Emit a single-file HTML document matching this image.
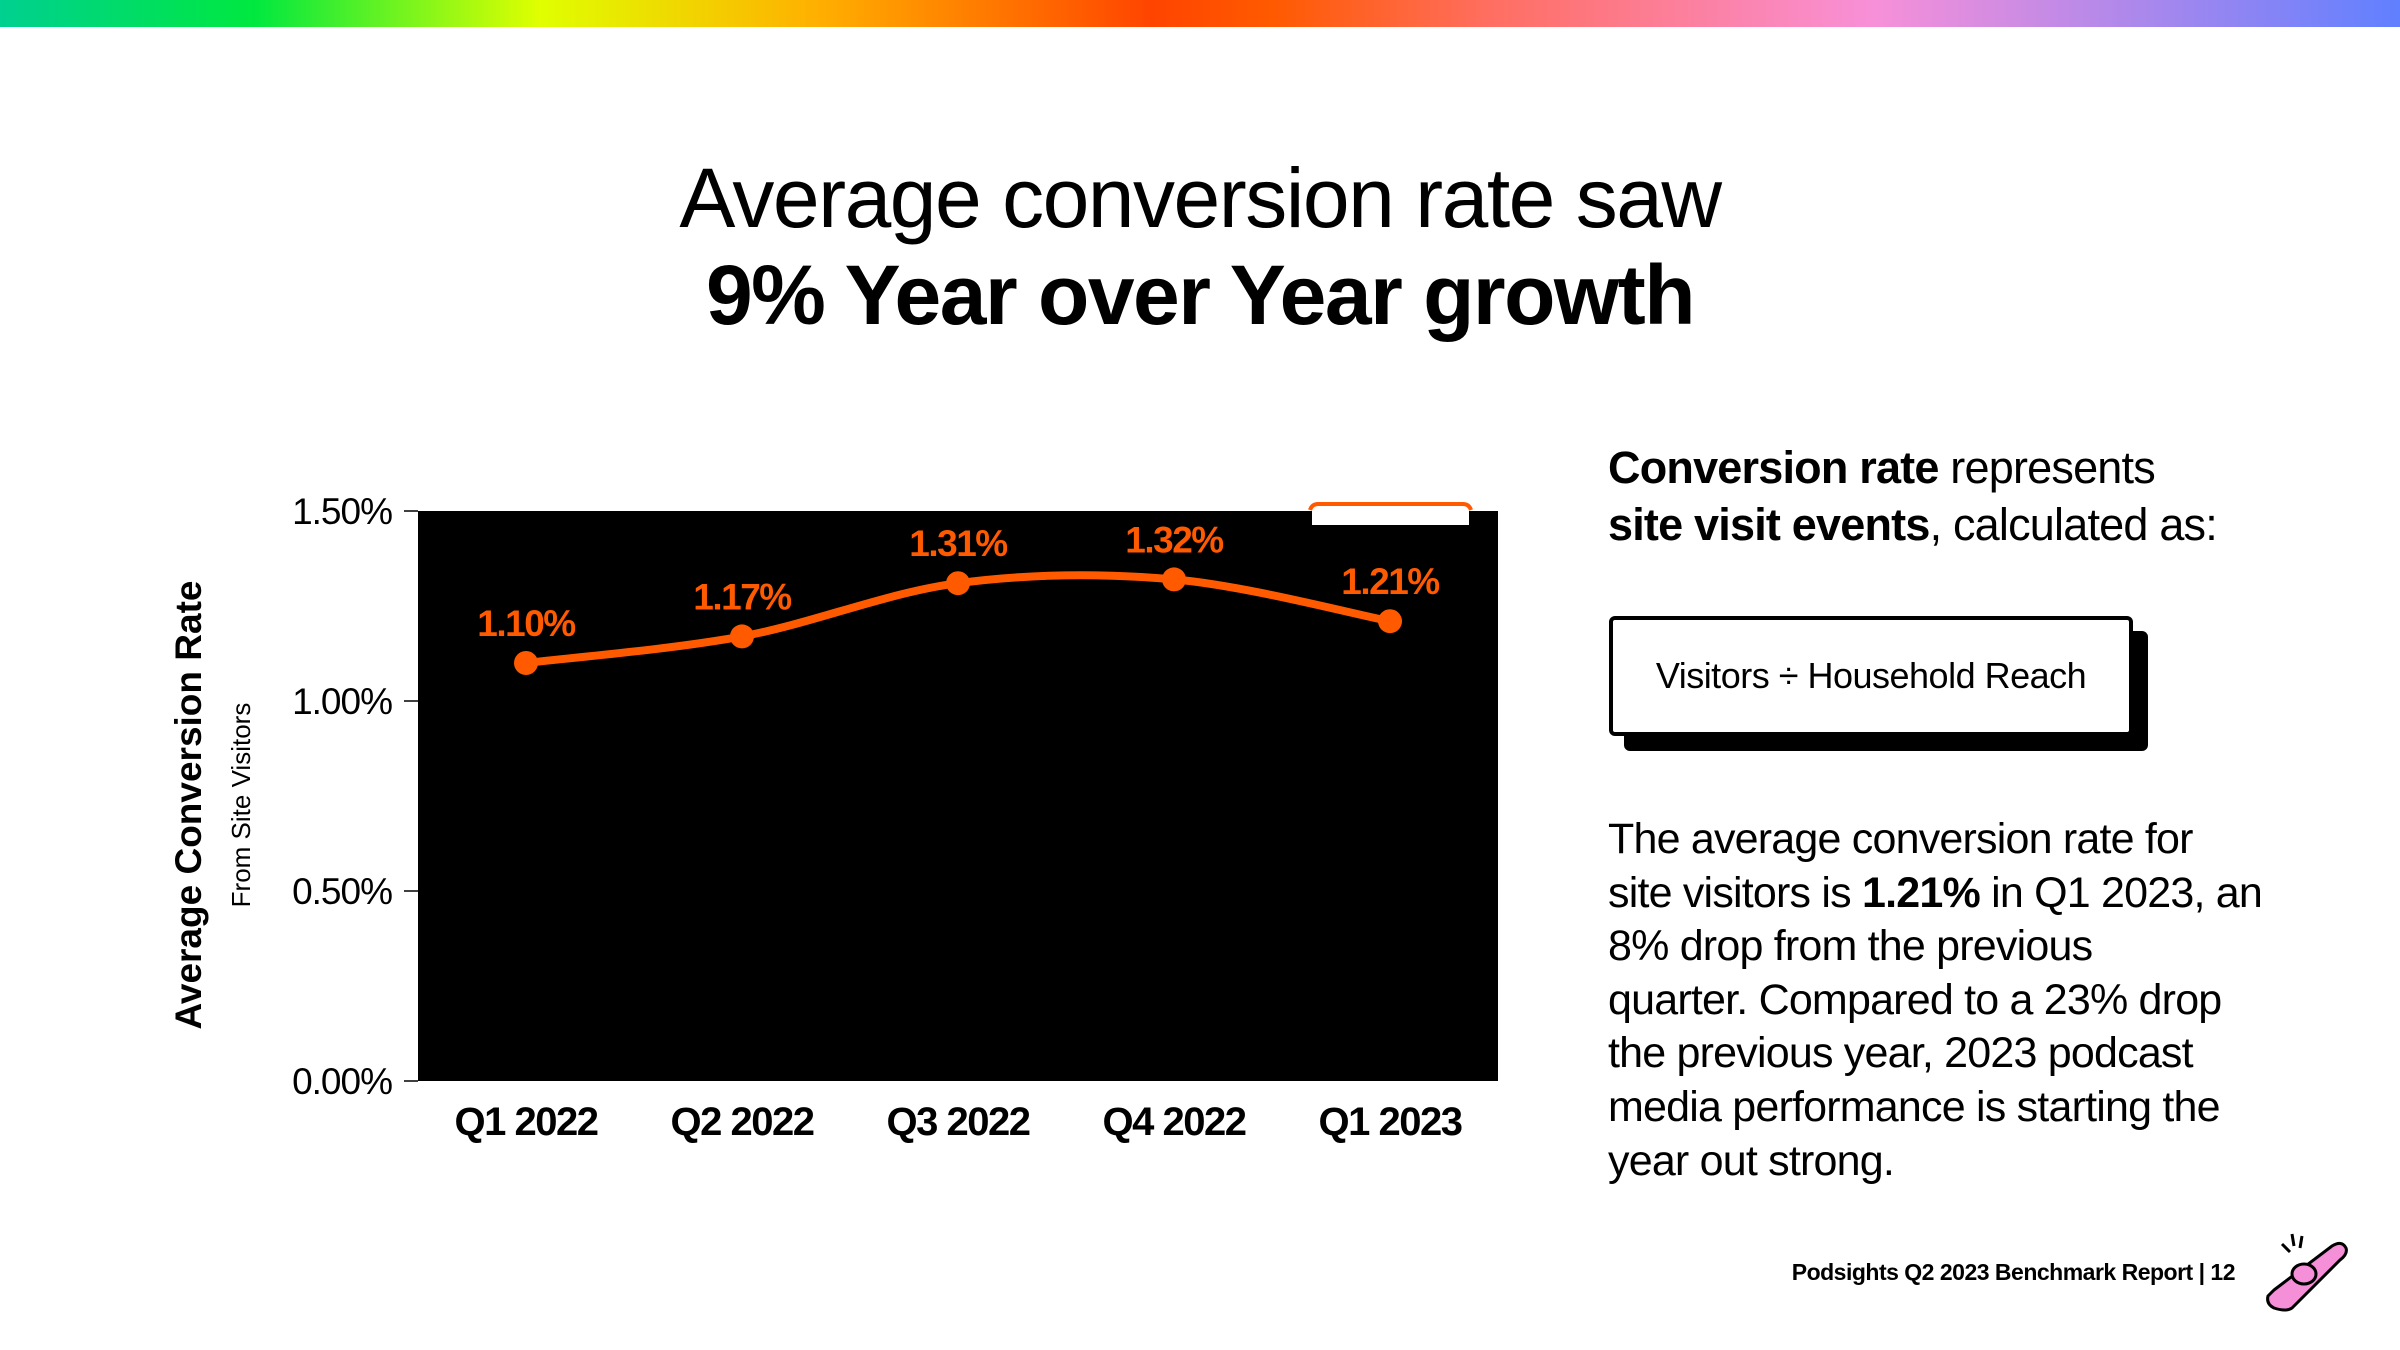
<!DOCTYPE html>
<html><head><meta charset="utf-8"><style>
body{margin:0;width:2400px;height:1350px;background:#fff;position:relative;overflow:hidden;font-family:"Liberation Sans",sans-serif;color:#000}
.bar{position:absolute;left:0;top:0;width:2400px;height:27px;background:linear-gradient(90deg,#00d090 0%,#00e840 10.6%,#e0ff00 22.5%,#ffb000 34%,#ff4400 48%,#ff5a00 53%,#ff6e60 62%,#f890d8 78%,#6080ff 100%)}
.t1{position:absolute;left:0;width:2400px;top:150px;text-align:center;font-size:84px;letter-spacing:-1.5px}
.t2{position:absolute;left:0;width:2400px;top:247px;text-align:center;font-size:84px;font-weight:bold;letter-spacing:-1.5px}
.side{position:absolute;left:1608px;top:439px;font-size:45px;line-height:57px;letter-spacing:-0.8px}
.box{position:absolute;left:1609px;top:616px;width:516px;height:112px;border:4px solid #000;border-radius:6px;background:#fff;box-shadow:15px 15px 0 #000;font-size:36px;line-height:112px;text-align:center;letter-spacing:-0.5px}
.para{position:absolute;left:1608px;top:813px;font-size:43px;line-height:53.6px;letter-spacing:-0.8px}
.foot{position:absolute;right:165px;top:1259px;font-size:23px;font-weight:bold;letter-spacing:-0.5px}
</style></head><body>
<div class="bar"></div>
<div class="t1">Average conversion rate saw</div>
<div class="t2">9% Year over Year growth</div>
<div class="side"><b>Conversion rate</b> represents<br><b>site visit events</b>, calculated as:</div>
<div class="box">Visitors ÷ Household Reach</div>
<div class="para">The average conversion rate for<br>site visitors is <b>1.21%</b> in Q1 2023, an<br>8% drop from the previous<br>quarter. Compared to a 23% drop<br>the previous year, 2023 podcast<br>media performance is starting the<br>year out strong.</div>
<div class="foot">Podsights Q2 2023 Benchmark Report | 12</div>
<svg style="position:absolute;left:2262px;top:1228px" width="95" height="85">
<path d="M12 62 L70 18 Q80 12 84 20 Q86 26 78 32 L30 80 Q24 84 12 80 Q4 76 6 68 Z" fill="#f590d8" stroke="#000" stroke-width="3"/>
<ellipse cx="42" cy="46" rx="12" ry="10" fill="#f590d8" stroke="#000" stroke-width="3"/>
<path d="M20 16 L28 24 M30 6 L32 18 M40 8 L38 20" stroke="#000" stroke-width="3"/>
</svg>
<svg id="chart" style="position:absolute;left:0;top:0" width="2400" height="1350"></svg>
<script>
const categories=["Q1 2022","Q2 2022","Q3 2022","Q4 2022","Q1 2023"];
const values=[1.10,1.17,1.31,1.32,1.21];
const valueLabels=["1.10%","1.17%","1.31%","1.32%","1.21%"];
const yTicks=[0,0.5,1.0,1.5];
const yTickLabels=["0.00%","0.50%","1.00%","1.50%"];
const NS="http://www.w3.org/2000/svg";
const svg=document.getElementById('chart');
const L=418,R=1498,T=511,B=1081,yMax=1.5;
const x=i=>L+(R-L)*(i+0.5)/categories.length;
const y=v=>B-(B-T)*v/yMax;
function mk(tag,attrs,parent){const e=document.createElementNS(NS,tag);for(const k in attrs)e.setAttribute(k,attrs[k]);(parent||svg).appendChild(e);return e;}
const bg=mk('rect',{x:L,y:T,width:R-L,height:B-T,fill:'#000'});


const wb=mk('rect',{x:1312,y:507,width:157,height:18,fill:'#fff'});


mk('path',{d:'M1310 510 Q1312 504 1318 504 L1463 504 Q1469 504 1471 510',fill:'none',stroke:'#ff5a00','stroke-width':4});
yTicks.forEach((t,i)=>{
  mk('line',{x1:L-14,x2:L,y1:y(t),y2:y(t),stroke:'#000','stroke-width':1.5});
  const tx=mk('text',{x:392,y:y(t)+13,'text-anchor':'end','font-size':37,'font-family':'Liberation Sans, sans-serif','letter-spacing':'-1'});
  tx.textContent=yTickLabels[i];
  
  
});
categories.forEach((c,i)=>{
  const tx=mk('text',{x:x(i),y:1135,'text-anchor':'middle','font-size':40,'font-weight':'bold','font-family':'Liberation Sans, sans-serif','letter-spacing':'-1.5'});
  tx.textContent=c;
  
  
});
let d=`M${x(0)} ${y(values[0])}`;
for(let i=0;i<values.length-1;i++){
  const p0=[x(Math.max(i-1,0)),y(values[Math.max(i-1,0)])],p1=[x(i),y(values[i])],p2=[x(i+1),y(values[i+1])],p3=[x(Math.min(i+2,values.length-1)),y(values[Math.min(i+2,values.length-1)])];
  const c1=[p1[0]+(p2[0]-p0[0])/6,p1[1]+(p2[1]-p0[1])/6],c2=[p2[0]-(p3[0]-p1[0])/6,p2[1]-(p3[1]-p1[1])/6];
  d+=` C${c1[0]} ${c1[1]} ${c2[0]} ${c2[1]} ${p2[0]} ${p2[1]}`;
}
const line=mk('path',{d:d,fill:'none',stroke:'#ff5a00','stroke-width':8});


values.forEach((v,i)=>{
  const c=mk('circle',{cx:x(i),cy:y(v),r:12,fill:'#ff5a00'});
  
  
  const tx=mk('text',{x:x(i),y:y(v)-27,'text-anchor':'middle','font-size':37,'font-weight':'bold',fill:'#ff5a00','font-family':'Liberation Sans, sans-serif','letter-spacing':'-1.5'});
  tx.textContent=valueLabels[i];
  
  
});
const yt=mk('text',{transform:'translate(201,805) rotate(-90)','text-anchor':'middle','font-size':37,'font-weight':'bold','font-family':'Liberation Sans, sans-serif'});
yt.textContent='Average Conversion Rate';


const ys=mk('text',{transform:'translate(250,805) rotate(-90)','text-anchor':'middle','font-size':26,'font-family':'Liberation Sans, sans-serif'});
ys.textContent='From Site Visitors';


</script>
</body></html>
